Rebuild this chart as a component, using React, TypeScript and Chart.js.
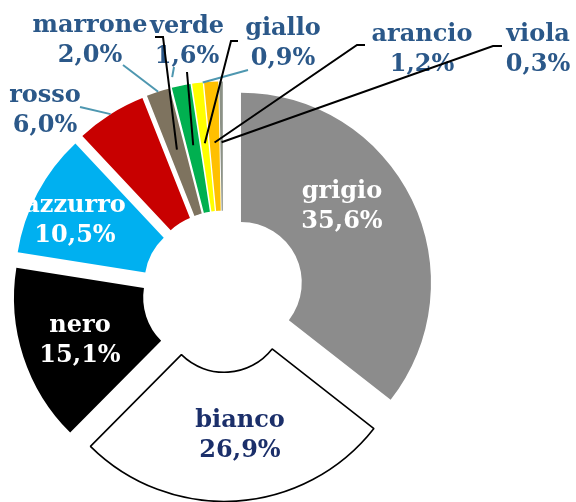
import React, { useEffect, useRef } from 'react';
import { Chart, registerables, ArcElement } from 'chart.js';

Chart.register(...registerables);

// ---- data ----
const categories = ['grigio', 'bianco', 'nero', 'azzurro', 'rosso', 'marrone', 'verde', 'giallo', 'arancio', 'viola'];
const shares = [35.6, 26.9, 15.1, 10.5, 6.0, 2.0, 1.6, 0.9, 1.2, 0.3];

// ---- styles ----
const sliceColors = ['#8C8C8C', '#FFFFFF', '#000000', '#00B0F0', '#C80000', '#7E735F', '#00B050', '#FFFF00', '#FFC000', '#8C9287'];
const sliceBorderColors = ['#8C8C8C', '#000000', '#000000', '#00B0F0', '#C80000', '#7E735F', '#00B050', '#FFFF00', '#FFC000', '#8C9287'];
const sliceBorderWidths = [0, 1.6, 0, 0, 0, 0, 0, 0, 0, 0];
const EXPLODE = 20;
const BLUE = '#2B5889';
const NAVY = '#1B2F6A';
const TEAL = '#4E97B0';
const FONT = 'bold 24px "DejaVu Serif", serif';
const LINE_GAP = 30;

// label anchors (centre x, first baseline y) and colours
const labelLayout = [
  { x: 342, y: 198, color: '#FFFFFF' },
  { x: 240, y: 427, color: NAVY },
  { x: 80, y: 332, color: '#FFFFFF' },
  { x: 75, y: 212, color: '#FFFFFF' },
  { x: 45, y: 102, color: BLUE },
  { x: 90, y: 32, color: BLUE },
  { x: 187, y: 33, color: BLUE },
  { x: 283, y: 35, color: BLUE },
  { x: 422, y: 41, color: BLUE },
  { x: 538, y: 41, color: BLUE },
];

// leader lines: slice index, label-side points, position on the slice (angular fraction, radial fraction)
const leaders = [
  { i: 4, color: TEAL, from: [[80, 107]], frac: 0.5, rf: 1.0 },
  { i: 5, color: TEAL, from: [[123, 65]], frac: 0.5, rf: 1.0 },
  { i: 6, color: TEAL, from: [[174, 67]], frac: 0.15, rf: 1.08 },
  { i: 7, color: TEAL, from: [[248, 70]], frac: 1.0, rf: 1.0 },
  { i: 5, color: '#000000', from: [[155, 37], [163, 37]], frac: 0.5, rf: 0.53 },
  { i: 6, color: '#000000', from: [[187, 72]], frac: 0.5, rf: 0.53 },
  { i: 7, color: '#000000', from: [[238, 41], [231, 41]], frac: 0.5, rf: 0.53 },
  { i: 8, color: '#000000', from: [[365, 45], [357, 45]], frac: 0.5, rf: 0.53 },
  { i: 9, color: '#000000', from: [[502, 46], [493, 46]], frac: 0.5, rf: 0.53 },
];

// exploded slices: every slice is pushed out along its mid angle
const proto: any = ArcElement.prototype;
if (!proto.__exploded) {
  const baseDraw = proto.draw;
  proto.draw = function (ctx: CanvasRenderingContext2D, area: any) {
    const half = (this.startAngle + this.endAngle) / 2;
    ctx.save();
    ctx.translate(Math.cos(half) * EXPLODE, Math.sin(half) * EXPLODE);
    baseDraw.call(this, ctx, area);
    ctx.restore();
  };
  proto.__exploded = true;
}

const fmt = (v: number) => v.toFixed(1).replace('.', ',') + '%';

const labelPlugin = {
  id: 'sliceLabels',
  afterDatasetsDraw(chart: any) {
    const ctx: CanvasRenderingContext2D = chart.ctx;
    const arcs = chart.getDatasetMeta(0).data;
    ctx.save();
    ctx.font = FONT;
    ctx.textAlign = 'center';
    ctx.textBaseline = 'alphabetic';
    categories.forEach((name, i) => {
      const l = labelLayout[i];
      ctx.fillStyle = l.color;
      ctx.fillText(name, l.x, l.y);
      ctx.fillText(fmt(shares[i]), l.x, l.y + LINE_GAP);
    });
    ctx.lineWidth = 2;
    ctx.lineJoin = 'miter';
    leaders.forEach((ld) => {
      const a = arcs[ld.i].getProps(['x', 'y', 'startAngle', 'endAngle', 'innerRadius', 'outerRadius'], true);
      const half = (a.startAngle + a.endAngle) / 2;
      const ang = a.startAngle + (a.endAngle - a.startAngle) * ld.frac;
      const rad = a.innerRadius + (a.outerRadius - a.innerRadius) * ld.rf;
      const tx = a.x + Math.cos(half) * EXPLODE + Math.cos(ang) * rad;
      const ty = a.y + Math.sin(half) * EXPLODE + Math.sin(ang) * rad;
      ctx.strokeStyle = ld.color;
      ctx.beginPath();
      ctx.moveTo(ld.from[0][0], ld.from[0][1]);
      for (let k = 1; k < ld.from.length; k++) ctx.lineTo(ld.from[k][0], ld.from[k][1]);
      ctx.lineTo(tx, ty);
      ctx.stroke();
    });
    ctx.restore();
  },
};

export default function App() {
  const ref = useRef<HTMLCanvasElement | null>(null);
  useEffect(() => {
    if (!ref.current) return;
    const chart = new Chart(ref.current, {
      type: 'doughnut',
      data: {
        labels: categories,
        datasets: [
          {
            data: shares,
            backgroundColor: sliceColors,
            borderColor: sliceBorderColors,
            borderWidth: sliceBorderWidths,
            hoverOffset: 0,
          },
        ],
      },
      options: {
        responsive: true,
        maintainAspectRatio: false,
        animation: false,
        radius: 190,
        cutout: '32%',
        rotation: 0,
        layout: { padding: { left: 0, right: 130, top: 81, bottom: 0 } },
        plugins: {
          legend: { display: false },
          tooltip: { enabled: false },
        },
      } as any,
      plugins: [labelPlugin],
    });
    return () => chart.destroy();
  }, []);
  return (
    <div style={{ position: 'absolute', left: 0, top: 0, width: 576, height: 502, background: '#FFFFFF' }}>
      <canvas ref={ref} />
    </div>
  );
}
